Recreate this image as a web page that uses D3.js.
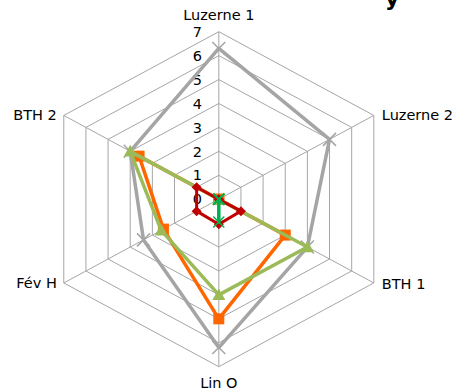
<!DOCTYPE html>
<html>
<head>
<meta charset="utf-8">
<script src="https://cdn.jsdelivr.net/npm/d3@7"></script>
<style>
html,body{margin:0;padding:0;background:#fff;overflow:hidden;}
text{font-family:"DejaVu Sans",Verdana,sans-serif;}
</style>
</head>
<body>
<svg id="chart" width="457" height="391"></svg>
<script>
const categories = ["Luzerne 1","Luzerne 2","BTH 1","Lin O","Fév H","BTH 2"];
const tickLabels = [0,1,2,3,4,5,6,7];
const seriesGray = [6.3,5.0,4.0,6.2,3.4,4.0];
const seriesOrange = [0,0,3.0,5.0,2.5,3.6];
const seriesLightGreen = [0,0,4.0,4.0,2.6,4.0];
const seriesDarkRed = [0,0,1.0,1.05,1.0,1.0];
const seriesDarkGreen = [0,0,0,0.95,0,0];

const svg = d3.select("#chart");
const cx = 218.8, cy = 199.2;
const rx = 179, ry = 167.5;
const rX = d3.scaleLinear().domain([0,7]).range([0,rx]);
const rY = d3.scaleLinear().domain([0,7]).range([0,ry]);
const angle = d3.scalePoint().domain(categories).range([0, 2*Math.PI*5/6]);
function pt(cat, v){
  const a = angle(cat);
  return [cx + rX(v)*Math.sin(a), cy - rY(v)*Math.cos(a)];
}

// grid rings
const grid = svg.append("g");
tickLabels.slice(1).forEach(t=>{
  grid.append("polygon")
    .attr("points", categories.map(c=>pt(c,t).join(",")).join(" "))
    .attr("fill","none").attr("stroke","#a6a6a6").attr("stroke-width",1);
});
categories.forEach(c=>{
  const p = pt(c,7);
  grid.append("line").attr("x1",cx).attr("y1",cy).attr("x2",p[0]).attr("y2",p[1])
    .attr("stroke","#a6a6a6").attr("stroke-width",1);
});

// tick labels
svg.append("g").selectAll("text").data(tickLabels).join("text")
  .attr("x",202).attr("y",d=>cy - rY(d)).attr("dy","0.36em")
  .attr("text-anchor","end").attr("font-size","14.5px").attr("fill","#000")
  .text(d=>d);

// category labels
const labelPos = {
  "Luzerne 1": {dx:0, dy:-16.5, anchor:"middle"},
  "Luzerne 2": {dx:8, dy:-1, anchor:"start"},
  "BTH 1": {dx:8, dy:1, anchor:"start"},
  "Lin O": {dx:0, dy:16.5, anchor:"middle"},
  "Fév H": {dx:-7, dy:0, anchor:"end"},
  "BTH 2": {dx:-7, dy:-1, anchor:"end"}
};
svg.append("g").selectAll("text").data(categories).join("text")
  .attr("x",d=>pt(d,7)[0]+labelPos[d].dx)
  .attr("y",d=>pt(d,7)[1]+labelPos[d].dy)
  .attr("dy","0.36em")
  .attr("text-anchor",d=>labelPos[d].anchor)
  .attr("font-size","14.5px").attr("fill","#000")
  .text(d=>d);

// partial title (cut off at the top in the reference)
svg.append("text").attr("x",385).attr("y",6).attr("font-size","22px")
  .attr("font-weight","bold").attr("fill","#000").text("y");

const series = [
  {vals:seriesGray, color:"#a5a5a5", w:3.5, marker:"x", size:13},
  {vals:seriesOrange, color:"#ff6600", w:3.5, marker:"square", size:11},
  {vals:seriesLightGreen, color:"#9bbb59", w:3.5, marker:"triangle", size:13},
  {vals:seriesDarkRed, color:"#c00000", w:3, marker:"diamond", size:10},
  {vals:seriesDarkGreen, color:"#00b050", w:3.5, marker:"x", size:11}
];
const line = d3.line().curve(d3.curveLinearClosed);
series.forEach(s=>{
  const pts = categories.map((c,i)=>pt(c,s.vals[i]));
  const g = svg.append("g");
  g.append("path").attr("d", line(pts)).attr("fill","none")
    .attr("stroke",s.color).attr("stroke-width",s.w).attr("stroke-linejoin","round");
  pts.forEach(p=>{
    const h = s.size/2;
    if(s.marker==="square"){
      g.append("rect").attr("x",p[0]-h).attr("y",p[1]-h).attr("width",s.size).attr("height",s.size).attr("fill",s.color);
    } else if(s.marker==="triangle"){
      g.append("path").attr("d",`M${p[0]},${p[1]-h} L${p[0]+h},${p[1]+h*0.8} L${p[0]-h},${p[1]+h*0.8}Z`).attr("fill",s.color);
    } else if(s.marker==="diamond"){
      g.append("path").attr("d",`M${p[0]},${p[1]-h} L${p[0]+h},${p[1]} L${p[0]},${p[1]+h} L${p[0]-h},${p[1]}Z`).attr("fill",s.color);
    } else {
      g.append("path").attr("d",`M${p[0]-h},${p[1]-h} L${p[0]+h},${p[1]+h} M${p[0]+h},${p[1]-h} L${p[0]-h},${p[1]+h}`)
        .attr("stroke",s.color).attr("stroke-width",1.5).attr("fill","none");
    }
  });
});
</script>
</body>
</html>
